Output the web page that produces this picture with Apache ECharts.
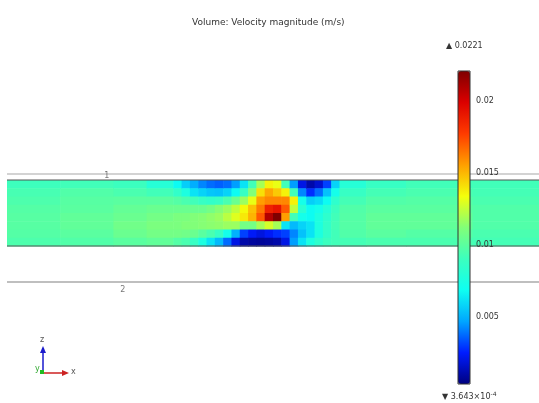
<!DOCTYPE html>
<html>
<head>
<meta charset="utf-8">
<script src="https://cdn.jsdelivr.net/npm/echarts@6/dist/echarts.min.js"></script>
<style>
  html, body { margin: 0; padding: 0; background: #fff; }
  #chart { width: 539px; height: 403px; }
</style>
</head>
<body>
<div id="chart"></div>
<script>
// colour range of the velocity magnitude (m/s)
const vMin = 0.0003643;
const vMax = 0.0221;
const colorbarTicks = [0.005, 0.01, 0.015, 0.02];

// cell edges along the channel (x) and across it (y, top to bottom), model units
const xEdges = [0, 0.8, 1.6, 2.1, 2.5, 2.625, 2.75, 2.875, 3.0, 3.125, 3.25, 3.375, 3.5,
  3.625, 3.75, 3.875, 4.0, 4.125, 4.25, 4.375, 4.5, 4.625, 4.75, 4.875, 5.0, 5.4, 6.0, 7.0, 8.0];
const yEdges = [1, 0.875, 0.75, 0.625, 0.5, 0.375, 0.25, 0.125, 0];

// velocity magnitude per column, top cell first
const velocityByColumn = [
  [0.0091, 0.0094, 0.0096, 0.0098, 0.0099, 0.0099, 0.0098, 0.0096],
  [0.0092, 0.0097, 0.0099, 0.0100, 0.0102, 0.0102, 0.0100, 0.0097],
  [0.0090, 0.0095, 0.0100, 0.0103, 0.0105, 0.0107, 0.0105, 0.0100],
  [0.0080, 0.0092, 0.0100, 0.0105, 0.0108, 0.0110, 0.0108, 0.0102],
  [0.0068, 0.0086, 0.0098, 0.0105, 0.0110, 0.0110, 0.0108, 0.0098],
  [0.0057, 0.0076, 0.0095, 0.0105, 0.0110, 0.0112, 0.0107, 0.0095],
  [0.0049, 0.0062, 0.0092, 0.0105, 0.0112, 0.0112, 0.0105, 0.0088],
  [0.0042, 0.0058, 0.0088, 0.0105, 0.0113, 0.0113, 0.0100, 0.0076],
  [0.0038, 0.0055, 0.0086, 0.0108, 0.0115, 0.0114, 0.0095, 0.0062],
  [0.0036, 0.0054, 0.0088, 0.0113, 0.0117, 0.0115, 0.0088, 0.0052],
  [0.0038, 0.0058, 0.0095, 0.0117, 0.0123, 0.0117, 0.0072, 0.0038],
  [0.0046, 0.0068, 0.0105, 0.0124, 0.0130, 0.0117, 0.0050, 0.0021],
  [0.0062, 0.0088, 0.0117, 0.0135, 0.0139, 0.0108, 0.0031, 0.0011],
  [0.0092, 0.0112, 0.0132, 0.0148, 0.0151, 0.0108, 0.0024, 0.0009],
  [0.0119, 0.0141, 0.0156, 0.0164, 0.0171, 0.0119, 0.0020, 0.0008],
  [0.0137, 0.0154, 0.0161, 0.0187, 0.0209, 0.0128, 0.0024, 0.0009],
  [0.0132, 0.0146, 0.0161, 0.0192, 0.0221, 0.0119, 0.0028, 0.0011],
  [0.0092, 0.0137, 0.0161, 0.0171, 0.0156, 0.0062, 0.0031, 0.0021],
  [0.0046, 0.0092, 0.0137, 0.0124, 0.0092, 0.0052, 0.0042, 0.0046],
  [0.0021, 0.0042, 0.0072, 0.0082, 0.0072, 0.0058, 0.0054, 0.0062],
  [0.0011, 0.0028, 0.0057, 0.0068, 0.0068, 0.0062, 0.0062, 0.0076],
  [0.0017, 0.0038, 0.0060, 0.0072, 0.0076, 0.0076, 0.0076, 0.0084],
  [0.0031, 0.0054, 0.0068, 0.0080, 0.0084, 0.0086, 0.0086, 0.0090],
  [0.0058, 0.0072, 0.0084, 0.0090, 0.0092, 0.0093, 0.0092, 0.0092],
  [0.0080, 0.0088, 0.0093, 0.0097, 0.0098, 0.0098, 0.0097, 0.0093],
  [0.0088, 0.0093, 0.0097, 0.0100, 0.0102, 0.0102, 0.0100, 0.0095],
  [0.0092, 0.0095, 0.0098, 0.0100, 0.0102, 0.0102, 0.0098, 0.0095],
  [0.0092, 0.0093, 0.0095, 0.0097, 0.0097, 0.0097, 0.0095, 0.0093]
];

// geometry edges seen in the view (model y) and edge labels
const boundaryLevels = [1.09, 1, 0, -0.545];
const edgeLabels = [[1.5, 1.06, '1'], [1.74, -0.665, '2']];

// rainbow colour table, evenly spaced from min to max
const rainbow = ['#00007f', '#001cff', '#00a6ff', '#0efff1', '#3cffbe', '#82ff78',
  '#f4ff0b', '#ff9f00', '#ff3b00', '#db0000', '#7f0000'];

const cells = [];
velocityByColumn.forEach((col, i) => {
  col.forEach((v, j) => {
    cells.push([xEdges[i], xEdges[i + 1], yEdges[j + 1], yEdges[j], v]);
  });
});

const boundaryStyles = [
  { color: '#c4c4c4', width: 1.5 },
  { color: '#555', width: 1 },
  { color: '#555', width: 1 },
  { color: '#aaa', width: 1.5 }
];

const chart = echarts.init(document.getElementById('chart'));

const option = {
  animation: false,
  title: {
    text: 'Volume: Velocity magnitude (m/s)',
    left: 187,
    top: 13,
    textStyle: { fontFamily: 'DejaVu Sans', fontSize: 9, fontWeight: 'normal', color: '#333' }
  },
  grid: [
    { left: 7, right: 0, top: 173.4, bottom: 107.5 },
    { left: 458, width: 12, top: 71, height: 313, show: true, z: 10,
      borderColor: '#333', borderWidth: 1, backgroundColor: 'transparent' }
  ],
  xAxis: [
    { type: 'value', min: 0, max: 8, show: false, gridIndex: 0 },
    { type: 'value', min: 0, max: 1, show: false, gridIndex: 1 }
  ],
  yAxis: [
    { type: 'value', min: -0.75, max: 1.1, show: false, gridIndex: 0 },
    {
      type: 'value', min: vMin, max: vMax, gridIndex: 1, position: 'right', z: 11,
      axisLine: { show: false }, axisTick: { show: false }, splitLine: { show: false },
      axisLabel: {
        customValues: colorbarTicks, margin: 6,
        fontFamily: 'DejaVu Sans', fontSize: 8, color: '#333'
      }
    }
  ],
  visualMap: {
    type: 'continuous',
    min: vMin,
    max: vMax,
    dimension: 4,
    seriesIndex: 0,
    calculable: false,
    left: 458,
    top: 71,
    padding: 0,
    itemWidth: 12,
    itemHeight: 313,
    inRange: { color: rainbow }
  },
  series: [
    {
      type: 'custom',
      xAxisIndex: 0,
      yAxisIndex: 0,
      data: cells,
      encode: { x: [0, 1], y: [2, 3] },
      renderItem: function (params, api) {
        const p0 = api.coord([api.value(0), api.value(3)]);
        const p1 = api.coord([api.value(1), api.value(2)]);
        return {
          type: 'rect',
          shape: { x: p0[0], y: p0[1], width: p1[0] - p0[0] + 0.6, height: p1[1] - p0[1] + 0.6 },
          style: { fill: api.visual('color') }
        };
      }
    },
    ...boundaryLevels.map((y, i) => ({
      type: 'line',
      z: 3,
      xAxisIndex: 0,
      yAxisIndex: 0,
      symbol: 'none',
      data: [[0, y], [8, y]],
      lineStyle: boundaryStyles[i]
    })),
    {
      type: 'scatter',
      z: 3,
      symbolSize: 0,
      data: edgeLabels,
      label: {
        show: true,
        position: 'inside',
        formatter: (p) => p.value[2],
        fontFamily: 'DejaVu Sans',
        fontSize: 8,
        color: '#555'
      }
    }
  ],
  graphic: [
    {
      type: 'text', left: 446, top: 42,
      style: { text: '▲ 0.0221', font: '8px DejaVu Sans', fill: '#333' }
    },
    {
      type: 'text', left: 442, top: 391,
      style: {
        text: '▼ 3.643×10{s|-4}', font: '8px DejaVu Sans', fill: '#333',
        rich: { s: { fontSize: 6, fontFamily: 'DejaVu Sans', verticalAlign: 'top', padding: [0, 0, 6, 0] } }
      }
    },
    // axis triad
    { type: 'line', shape: { x1: 43, y1: 373, x2: 43, y2: 350 }, style: { stroke: '#1a1acc', lineWidth: 1.5 } },
    { type: 'polygon', shape: { points: [[40, 353], [46, 353], [43, 346]] }, style: { fill: '#1a1acc' } },
    { type: 'line', shape: { x1: 43, y1: 373, x2: 64, y2: 373 }, style: { stroke: '#cc2222', lineWidth: 1.5 } },
    { type: 'polygon', shape: { points: [[62, 370], [62, 376], [69, 373]] }, style: { fill: '#cc2222' } },
    { type: 'rect', shape: { x: 40, y: 370, width: 4, height: 4 }, style: { fill: '#22bb22' } },
    { type: 'text', x: 40, y: 336, style: { text: 'z', font: '8px DejaVu Sans', fill: '#555' } },
    { type: 'text', x: 35, y: 365, style: { text: 'y', font: '8px DejaVu Sans', fill: '#3a3' } },
    { type: 'text', x: 71, y: 368, style: { text: 'x', font: '8px DejaVu Sans', fill: '#555' } }
  ]
};

chart.setOption(option);
</script>
</body>
</html>
